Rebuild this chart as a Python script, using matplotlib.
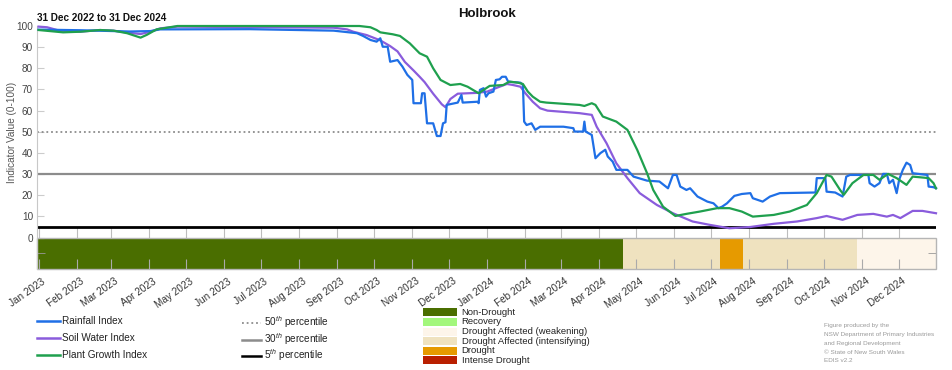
import matplotlib
matplotlib.use('Agg')
import matplotlib.pyplot as plt
import matplotlib.dates as mdates
from matplotlib.lines import Line2D
from matplotlib.patches import Rectangle
from matplotlib.transforms import ScaledTranslation
import pandas as pd

plt.rcParams['font.family'] = ['Liberation Sans', 'DejaVu Sans']
plt.rcParams['mathtext.fontset'] = 'custom'
plt.rcParams['mathtext.rm'] = 'Liberation Sans'
plt.rcParams['mathtext.it'] = 'Liberation Sans:italic'
plt.rcParams['mathtext.bf'] = 'Liberation Sans:bold'

# ---------------- data ----------------
title = 'Holbrook'
subtitle = '31 Dec 2022 to 31 Dec 2024'
start = '2022-12-31'
end = '2024-12-31'

# days since 31 Dec 2022
rain_day = [1, 35, 75, 92, 100, 173, 241, 260, 265, 271, 276, 279, 281, 285, 287, 293, 297, 301, 305, 306,
            312, 313, 315, 317, 322, 325, 328, 330, 332, 333, 342, 345, 346, 358, 359, 360, 363, 365, 367, 371,
            373, 376, 378, 381, 383, 393, 395, 396, 398, 402, 405, 409, 428, 436, 437, 444, 445, 446, 451, 454,
            458, 462, 464, 468, 471, 480, 485, 496, 506, 513, 517, 520, 523, 528, 531, 537, 545, 550, 554, 557,
            561, 567, 573, 580, 582, 590, 596, 604, 633, 634, 641, 642, 649, 655, 658, 661, 676, 677, 681, 685,
            688, 691, 693, 696, 699, 701, 704, 707, 710, 712, 724, 725, 729, 731]
rain_val = [98.3, 98.0, 97.4, 97.6, 98.4, 98.5, 97.8, 96.6, 95.3, 93.4, 92.6, 94.2, 90.2, 90.2, 83.1, 83.9, 80.8, 76.9, 74.5, 63.5,
            63.5, 68.2, 68.2, 54.0, 54.0, 48.0, 48.0, 54.0, 54.5, 62.7, 63.8, 67.4, 63.8, 64.2, 63.5, 69.8, 70.6, 66.6, 68.2, 69.0,
            74.5, 74.8, 76.0, 76.0, 73.7, 73.2, 72.1, 54.8, 53.2, 54.0, 50.9, 52.4, 52.4, 51.7, 50.1, 50.1, 54.8, 50.1, 48.5, 37.5,
            39.9, 41.5, 38.3, 35.9, 32.0, 32.0, 28.8, 26.9, 26.5, 23.3, 29.6, 29.6, 24.1, 22.5, 23.3, 19.4, 17.0, 16.2, 13.9, 14.6,
            16.2, 19.7, 20.6, 21.0, 18.6, 17.0, 19.4, 21.0, 21.3, 28.1, 28.1, 21.7, 21.3, 19.4, 28.8, 29.6, 29.6, 25.7, 24.1, 25.7,
            30.1, 30.1, 25.7, 27.3, 21.0, 27.3, 32.0, 35.4, 34.3, 30.4, 29.6, 24.1, 23.8, 23.3]

soil_day = [1, 8, 18, 35, 51, 62, 73, 84, 92, 100, 114, 241, 252, 257, 268, 279, 287, 293, 299, 306,
            311, 315, 322, 329, 332, 336, 342, 358, 366, 376, 382, 387, 393, 397, 403, 409, 415, 441, 451, 455,
            463, 471, 480, 490, 504, 517, 533, 547, 555, 563, 580, 599, 618, 634, 642, 655, 667, 680, 691, 696,
            702, 712, 720, 731]
soil_val = [99.7, 99.4, 97.8, 97.3, 98.1, 97.8, 96.9, 96.2, 97.3, 98.9, 99.7, 99.2, 98.4, 97.3, 95.7, 93.2, 90.5, 88.0, 83.0, 79.0,
            76.0, 73.5, 68.0, 63.0, 61.6, 65.5, 68.0, 68.4, 69.0, 71.3, 72.6, 72.1, 71.3, 68.2, 64.2, 61.1, 60.0, 58.8, 58.0, 52.4,
            44.6, 35.1, 28.1, 21.0, 15.4, 11.5, 7.6, 6.0, 5.2, 4.4, 5.0, 6.5, 7.6, 9.2, 10.2, 8.4, 10.7, 11.2, 9.9, 10.7,
            9.2, 12.6, 12.6, 11.5]

plant_day = [1, 21, 35, 51, 62, 73, 84, 89, 97, 114, 262, 271, 276, 279, 289, 295, 303, 311, 317, 322,
             328, 336, 344, 350, 359, 363, 368, 379, 384, 391, 395, 399, 403, 409, 414, 441, 445, 451, 454, 460,
             471, 480, 488, 496, 501, 509, 519, 528, 539, 553, 563, 573, 582, 599, 612, 626, 634, 642, 646, 653,
             656, 663, 672, 680, 685, 692, 699, 707, 712, 718, 725, 729, 731]
plant_val = [98.1, 97.0, 97.3, 98.1, 97.8, 96.6, 94.5, 95.8, 98.4, 100, 100, 99.4, 98.1, 97.0, 96.1, 95.3, 91.8, 87.1, 85.5, 80.0,
             74.5, 72.1, 72.6, 71.3, 68.2, 69.8, 71.7, 72.1, 73.7, 73.2, 72.6, 69.0, 66.6, 64.2, 63.8, 62.7, 62.2, 63.5, 62.7, 57.2,
             54.8, 50.9, 41.4, 30.4, 22.5, 14.6, 10.2, 11.2, 12.3, 13.9, 13.9, 12.3, 9.9, 10.7, 12.3, 15.4, 21.0, 29.6, 28.8, 22.5,
             20.2, 25.7, 29.6, 29.6, 27.3, 30.1, 28.1, 24.9, 28.8, 28.5, 28.1, 25.7, 23.3]

status_start = ['2022-12-31', '2024-04-20', '2024-07-08', '2024-07-27', '2024-10-28']
status_end = ['2024-04-20', '2024-07-08', '2024-07-27', '2024-10-28', '2024-12-31']
status_cat = ['Non-Drought', 'Drought Affected (intensifying)', 'Drought',
              'Drought Affected (intensifying)', 'Drought Affected (weakening)']

categories = ['Non-Drought', 'Recovery', 'Drought Affected (weakening)',
              'Drought Affected (intensifying)', 'Drought', 'Intense Drought']
cat_colors = ['#4a6e00', '#a3f77c', '#fdf5ea', '#efe2bf', '#e69a00', '#b91f00']

series_names = ['Rainfall Index', 'Soil Water Index', 'Plant Growth Index']
series_colors = ['#1f6fe6', '#8a5cdc', '#1fa04e']

pct_levels = [50, 30, 5]
pct_names = ['50$^{th}$ percentile', '30$^{th}$ percentile', '5$^{th}$ percentile']

credit_lines = ['Figure produced by the', 'NSW Department of Primary Industries',
                'and Regional Development', '\u00a9 State of New South Wales', 'EDIS v2.2']

# ---------------- layout ----------------
W, H = 952, 370
fig = plt.figure(figsize=(W / 100, H / 100), dpi=100)


def fx(px):
    return px / W


def fy(py):
    return 1 - py / H


ax = fig.add_axes([fx(37.3), fy(269.3), fx(936) - fx(37.3), fy(26) - fy(269.3)])
bar_bottom = -15
ax.set_ylim(bar_bottom, 100)
x0 = mdates.date2num(pd.Timestamp(start))
x1 = mdates.date2num(pd.Timestamp(end))
ax.set_xlim(x0, x1)


def to_dates(days):
    return pd.Timestamp(start) + pd.to_timedelta(days, unit='D')


cmap = dict(zip(categories, cat_colors))
for s, e, c in zip(status_start, status_end, status_cat):
    s_n = mdates.date2num(pd.Timestamp(s))
    e_n = mdates.date2num(pd.Timestamp(e))
    ax.broken_barh([(s_n, e_n - s_n)], (bar_bottom, -bar_bottom), facecolor=cmap[c],
                   edgecolor='none', zorder=1)
ax.add_patch(Rectangle((x0, bar_bottom), x1 - x0, -bar_bottom, fill=False,
                       edgecolor='#b5b5b5', lw=1.0, zorder=2, clip_on=False))

month_starts = pd.date_range('2023-01-01', '2024-12-01', freq='MS')
ax.vlines(month_starts, 0, 5, color='#bdbdbd', lw=0.8, zorder=1)

# percentile lines
ax.axhline(pct_levels[0], color='#8c8c8c', lw=1.3, ls=(0, (1, 1.6)), zorder=2)
ax.axhline(pct_levels[1], color='#8c8c8c', lw=1.6, zorder=2)
ax.axhline(pct_levels[2], color='black', lw=2.0, zorder=2)

ax.plot(to_dates(soil_day), soil_val, color=series_colors[1], lw=1.6, zorder=4, clip_on=False)
ax.plot(to_dates(rain_day), rain_val, color=series_colors[0], lw=1.6, zorder=5, clip_on=False)
ax.plot(to_dates(plant_day), plant_val, color=series_colors[2], lw=1.6, zorder=6, clip_on=False)

# axes styling
for sp in ['top', 'right', 'bottom']:
    ax.spines[sp].set_visible(False)
ax.spines['left'].set_color('#c8c8c8')
ax.spines['left'].set_linewidth(0.8)

ax.set_yticks(range(0, 101, 10))
ax.set_yticks([-7.5], minor=True)
ax.tick_params(axis='y', which='major', direction='in', length=5, color='#cccccc',
               labelsize=7.2, labelcolor='#444444', pad=3)
ax.tick_params(axis='y', which='minor', direction='in', length=6, color='#999999',
               left=True, right=True)

ax.set_xticks(month_starts)
ax.set_xticklabels([d.strftime('%b %Y') for d in month_starts])
ax.tick_params(axis='x', which='major', direction='in', length=7, color='#aaaaaa',
               labelsize=7.2, labelcolor='#333333', pad=5)
off = ScaledTranslation(3 / 100, 0, fig.dpi_scale_trans)
for lab in ax.get_xticklabels():
    lab.set_rotation(35)
    lab.set_ha('right')
    lab.set_va('top')
    lab.set_rotation_mode('anchor')
    lab.set_transform(lab.get_transform() + off)

# titles
fig.text(fx(486.7), fy(14), title, ha='center', va='center', fontsize=9.5, fontweight='bold', color='#111111')
fig.text(fx(37.3), fy(18.3), subtitle, ha='left', va='center', fontsize=7.2, fontweight='bold', color='#111111')
fig.text(fx(12), fy(132), 'Indicator Value (0-100)', rotation=90, ha='center', va='center',
         fontsize=7.2, color='#555555')

# legend: series
for name, col, yy in zip(series_names, series_colors, [320.7, 337.7, 354.7]):
    fig.add_artist(Line2D([fx(37), fx(60)], [fy(yy), fy(yy)], color=col, lw=1.8,
                          transform=fig.transFigure))
    fig.text(fx(62), fy(yy), name, ha='left', va='center', fontsize=7.2, color='#222222')

# legend: percentiles
pct_styles = [dict(color='#8c8c8c', lw=1.3, ls=(0, (1, 1.6))),
              dict(color='#8c8c8c', lw=1.8),
              dict(color='black', lw=1.8)]
for name, sty, yy in zip(pct_names, pct_styles, [322.5, 339.5, 355.5]):
    fig.add_artist(Line2D([fx(242), fx(261)], [fy(yy), fy(yy)], transform=fig.transFigure, **sty))
    fig.text(fx(264), fy(yy), name, ha='left', va='center', fontsize=7.2, color='#222222')

# legend: drought categories
for name, col, yy in zip(categories, cat_colors, [312.3, 322.0, 331.5, 341.2, 350.8, 360.4]):
    fig.add_artist(Rectangle((fx(423.3), fy(yy + 4)), fx(457.3) - fx(423.3), fy(yy - 4) - fy(yy + 4),
                             facecolor=col, edgecolor='none', transform=fig.transFigure))
    fig.text(fx(461.7), fy(yy), name, ha='left', va='center', fontsize=6.8, color='#222222')

# credits
for line, yy in zip(credit_lines, [326, 334.7, 343.3, 352, 361]):
    fig.text(fx(824), fy(yy), line, ha='left', va='center', fontsize=4.6, color='#9a9a9a')

fig.savefig('out.png', dpi=100)
